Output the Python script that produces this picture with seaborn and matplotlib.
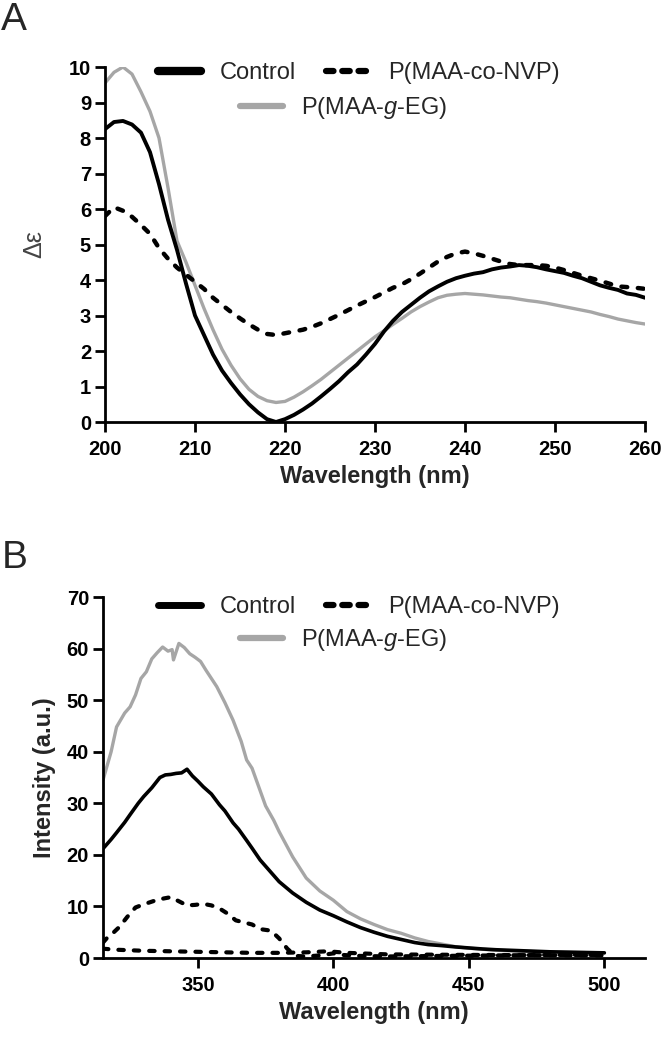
import matplotlib
matplotlib.use("Agg")
import matplotlib.pyplot as plt
from matplotlib.lines import Line2D
import seaborn as sns

# ---- panel A: CD spectra ----
cd_wl = list(range(200, 261))
cd_control = [8.25, 8.45, 8.48, 8.38, 8.15, 7.6, 6.7, 5.7, 4.85, 3.9,
              3.0, 2.45, 1.9, 1.45, 1.1, 0.78, 0.5, 0.27, 0.08, 0.0,
              0.08, 0.2, 0.35, 0.52, 0.72, 0.93, 1.15, 1.4, 1.62, 1.9,
              2.2, 2.55, 2.85, 3.1, 3.3, 3.5, 3.68, 3.82, 3.95, 4.05,
              4.12, 4.18, 4.22, 4.3, 4.35, 4.38, 4.42, 4.4, 4.36, 4.3,
              4.25, 4.2, 4.12, 4.05, 3.95, 3.85, 3.78, 3.72, 3.62, 3.58, 3.5]
cd_geg = [9.55, 9.85, 10.0, 9.8, 9.3, 8.75, 8.0, 6.6, 5.1, 4.5,
          3.85, 3.2, 2.6, 2.05, 1.6, 1.22, 0.92, 0.72, 0.6, 0.55,
          0.58, 0.7, 0.85, 1.02, 1.2, 1.4, 1.6, 1.8, 2.0, 2.2,
          2.4, 2.57, 2.75, 2.92, 3.1, 3.25, 3.38, 3.5, 3.57, 3.6,
          3.62, 3.6, 3.58, 3.55, 3.52, 3.5, 3.46, 3.42, 3.39, 3.35,
          3.3, 3.25, 3.2, 3.15, 3.1, 3.03, 2.97, 2.9, 2.85, 2.8, 2.76]
cd_nvp = [5.8, 6.05, 5.95, 5.78, 5.55, 5.3, 4.9, 4.6, 4.35, 4.15,
          3.95, 3.75, 3.5, 3.3, 3.1, 2.92, 2.75, 2.6, 2.48, 2.45,
          2.5, 2.55, 2.6, 2.68, 2.78, 2.9, 3.02, 3.15, 3.28, 3.4,
          3.52, 3.65, 3.78, 3.88, 4.02, 4.18, 4.35, 4.52, 4.65, 4.75,
          4.8, 4.75, 4.68, 4.6, 4.52, 4.45, 4.42, 4.42, 4.42, 4.4,
          4.35, 4.28, 4.2, 4.12, 4.05, 3.98, 3.9, 3.82, 3.8, 3.78, 3.75]

# ---- panel B: fluorescence ----
fl_control_wl = [315, 318, 320, 323, 325, 328, 330, 333, 336, 338, 340, 342, 344, 346,
                 348, 350, 352, 355, 358, 360, 363, 365, 368, 370, 373, 375, 380, 385,
                 390, 395, 400, 405, 410, 415, 420, 425, 430, 435, 440, 445, 450, 455,
                 460, 465, 470, 480, 490, 500]
fl_control = [21.2, 23.0, 24.3, 26.3, 27.8, 30.0, 31.3, 33.0, 35.0, 35.5, 35.6, 35.8, 35.9, 36.6,
              35.3, 34.3, 33.2, 31.8, 29.7, 28.5, 26.2, 25.0, 22.8, 21.3, 19.0, 17.8, 14.8, 12.6,
              10.8, 9.3, 8.2, 7.0, 5.9, 5.0, 4.2, 3.6, 3.0, 2.6, 2.4, 2.15, 1.95, 1.75,
              1.6, 1.5, 1.4, 1.2, 1.1, 1.0]
fl_geg_wl = [315, 318, 320, 323, 325, 327, 329, 331, 333, 335, 337, 339, 340.5, 341, 343,
             345, 347, 349, 351, 353, 355, 357, 360, 363, 366, 368, 370, 375, 378, 380,
             385, 390, 395, 400, 405, 410, 415, 420, 425, 430, 435, 440, 445, 450, 455,
             460, 470, 480, 490, 500]
fl_geg = [34.5, 40.0, 44.8, 47.5, 48.7, 51.0, 54.2, 55.5, 58.0, 59.2, 60.3, 59.5, 59.8, 57.8, 61.0,
          60.2, 59.0, 58.3, 57.5, 55.8, 54.2, 52.6, 49.5, 46.1, 42.0, 38.4, 36.8, 29.5, 26.7, 24.5,
          19.6, 15.5, 13.0, 11.2, 9.0, 7.6, 6.5, 5.5, 4.8, 3.9, 3.2, 2.7, 2.2, 1.9, 1.7,
          1.5, 1.3, 1.15, 1.05, 1.0]
fl_nvp_wl = [315, 317, 319, 321, 324, 327, 330, 334, 337, 340, 343, 346, 349, 352, 355,
             358, 361, 364, 367, 370, 373, 377, 380, 383, 386, 390, 395, 400, 403, 410,
             420, 440, 460, 480, 500]
fl_nvp = [3.0, 4.2, 5.0, 6.0, 8.0, 9.8, 10.4, 11.1, 11.5, 11.8, 11.0, 10.2, 10.3, 10.5, 10.2,
          9.6, 8.6, 7.3, 6.9, 6.5, 5.6, 5.3, 3.8, 1.8, 0.4, 0.3, 0.5, 0.9, 0.6, 0.4,
          0.3, 0.4, 0.5, 0.6, 0.6]
fl_nvp2_wl = [315, 320, 330, 340, 350, 360, 370, 380, 390, 398, 405, 420, 450, 500]
fl_nvp2 = [1.8, 1.6, 1.4, 1.3, 1.2, 1.1, 1.0, 1.0, 1.1, 1.3, 1.0, 0.7, 0.6, 0.5]

labels = ["Control", "P(MAA-co-NVP)", "P(MAA-$\\it{g}$-EG)"]

sns.set_style("ticks")
plt.rcParams['font.family'] = ['Liberation Sans', 'DejaVu Sans']
plt.rcParams['mathtext.fontset'] = 'custom'
plt.rcParams['mathtext.it'] = 'Liberation Sans:italic'
plt.rcParams['mathtext.rm'] = 'Liberation Sans'

GRAY = "#a6a6a6"
DASH = (0, (1.3, 2.4))

fig = plt.figure(figsize=(6.66, 10.45), dpi=100)
axA = fig.add_axes([105/666, 1 - 422/1045, 540/666, 355/1045])
axB = fig.add_axes([103/666, 1 - 958/1045, 542/666, 361/1045])


def style_axis(ax):
    for s in ["top", "right"]:
        ax.spines[s].set_visible(False)
    for s in ["left", "bottom"]:
        ax.spines[s].set_linewidth(2.0)
        ax.spines[s].set_color("black")
    ax.tick_params(axis='both', direction="out", length=7, width=2.0,
                   labelsize=14.5, colors="black")
    ax.tick_params(axis='x', pad=6)
    ax.tick_params(axis='y', pad=3)
    for lab in ax.get_xticklabels() + ax.get_yticklabels():
        lab.set_fontweight("bold")


# panel A
sns.lineplot(x=cd_wl, y=cd_geg, ax=axA, color=GRAY, lw=2.4, estimator=None)
sns.lineplot(x=cd_wl, y=cd_nvp, ax=axA, color="black", lw=3.2, linestyle=DASH,
             dash_capstyle="round", estimator=None)
sns.lineplot(x=cd_wl, y=cd_control, ax=axA, color="black", lw=2.8, estimator=None)
axA.set_xlim(200, 260)
axA.set_ylim(0, 10)
axA.set_xticks(range(200, 261, 10))
axA.set_yticks(range(0, 11))
axA.set_xlabel("Wavelength (nm)", fontsize=17, fontweight="bold", labelpad=4)
axA.set_ylabel("Δε", fontsize=18, color="#444444", labelpad=16)
style_axis(axA)

# panel B
sns.lineplot(x=fl_geg_wl, y=fl_geg, ax=axB, color=GRAY, lw=2.4, estimator=None)
sns.lineplot(x=fl_nvp_wl, y=fl_nvp, ax=axB, color="black", lw=3.0, linestyle=DASH,
             dash_capstyle="round", estimator=None)
sns.lineplot(x=fl_nvp2_wl, y=fl_nvp2, ax=axB, color="black", lw=3.0, linestyle=DASH,
             dash_capstyle="round", estimator=None)
sns.lineplot(x=fl_control_wl, y=fl_control, ax=axB, color="black", lw=2.6, estimator=None)
axB.set_xlim(315, 515)
axB.set_ylim(0, 70)
axB.set_xticks(range(350, 501, 50))
axB.set_yticks(range(0, 71, 10))
axB.set_xlabel("Wavelength (nm)", fontsize=17, fontweight="bold", labelpad=4)
axB.set_ylabel("Intensity (a.u.)", fontsize=17, fontweight="bold", labelpad=8)
style_axis(axB)


def add_legend(ax, row1_y, row2_y, thick):
    h_ctrl = Line2D([], [], color="black", lw=thick)
    h_nvp = Line2D([], [], color="black", lw=4.5, linestyle=(0, (1.2, 1.4)),
                   dash_capstyle="round")
    h_geg = Line2D([], [], color=GRAY, lw=4.5)
    kw = dict(frameon=False, fontsize=17, handlelength=1.8, handletextpad=0.8,
              borderpad=0, borderaxespad=0, loc="center left",
              bbox_transform=fig.transFigure)
    leg1 = ax.legend([h_ctrl, h_nvp], labels[:2], ncol=2, columnspacing=1.3,
                     bbox_to_anchor=(158/666, 1 - row1_y/1045), **kw)
    ax.add_artist(leg1)
    ax.legend([h_geg], labels[2:], bbox_to_anchor=(240/666, 1 - row2_y/1045), **kw)


add_legend(axA, 73, 108, 6.0)
add_legend(axB, 607, 640, 5.0)

fig.text(0.002, 1 - 2/1045, "A", fontsize=28, va="top", ha="left")
fig.text(0.002, 1 - 540/1045, "B", fontsize=28, va="top", ha="left")

plt.savefig("out.png", dpi=100)
